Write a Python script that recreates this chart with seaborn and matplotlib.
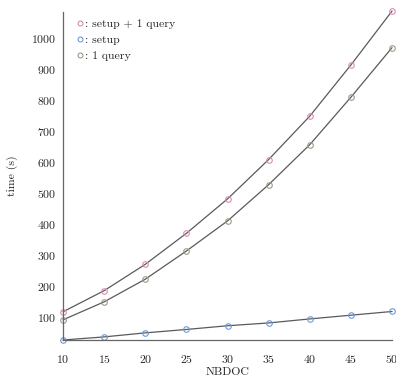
import matplotlib
matplotlib.use("Agg")
import matplotlib.pyplot as plt
from matplotlib.lines import Line2D
import seaborn as sns
import pandas as pd

nbdoc = [10, 15, 20, 25, 30, 35, 40, 45, 50]
setup_query = [117, 185, 270, 370, 481, 608, 748, 913, 1087]
setup = [26, 36, 49, 60, 72, 81, 94, 106, 118]
one_query = [91, 149, 222, 313, 410, 527, 656, 809, 969]

labels = [": setup + 1 query", ": setup", ": 1 query"]
colors = ["#d98cb5", "#6f98dd", "#9c9c84"]

sns.set_style("white")
plt.rcParams["font.family"] = ["cmr10", "DejaVu Serif"]
plt.rcParams["axes.formatter.use_mathtext"] = True
plt.rcParams["font.size"] = 8.5

df = pd.DataFrame({"NBDOC": nbdoc, "setup + 1 query": setup_query,
                   "setup": setup, "1 query": one_query})

fig = plt.figure(figsize=(3.96, 3.81), dpi=100)
ax = fig.add_axes([0.159, 0.1076, 0.831, 0.861])

for col, c in zip(["setup + 1 query", "setup", "1 query"], colors):
    sns.lineplot(data=df, x="NBDOC", y=col, ax=ax, color="#5a5a5a", linewidth=0.9,
                 marker="o", markersize=4, markerfacecolor="none",
                 markeredgecolor=c, markeredgewidth=0.8, clip_on=False)

ax.set_xlim(10, 50)
ax.set_ylim(26, 1084)
ax.set_xticks(nbdoc)
ax.set_yticks(range(100, 1001, 100))
ax.tick_params(length=0)
ax.tick_params(axis="x", pad=9)
ax.tick_params(axis="y", pad=5)
ax.set_xlabel("NBDOC", labelpad=2)
ax.set_ylabel("time (s)", labelpad=9)
sns.despine(ax=ax)
for s in ["left", "bottom"]:
    ax.spines[s].set_color("#666666")
    ax.spines[s].set_linewidth(0.9)

handles = [Line2D([], [], linestyle="none", marker="o", markersize=3.5,
                  markerfacecolor="none", markeredgecolor=c, markeredgewidth=0.8)
           for c in colors]
ax.legend(handles, labels, loc="upper left", bbox_to_anchor=(0.02, 1.005),
          frameon=False, handlelength=0.4, handletextpad=0.2, labelspacing=0.5,
          borderaxespad=0.3)

fig.savefig("out.png", dpi=100)
